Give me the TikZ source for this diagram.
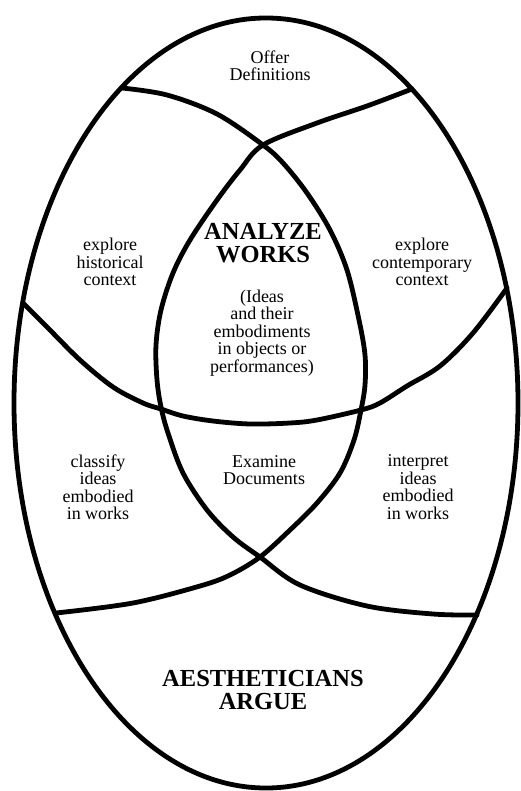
\documentclass[tikz,border=0pt]{standalone}
\usepackage{fontspec}
\setmainfont{Liberation Serif}
\begin{document}
\begin{tikzpicture}[x=1pt,y=-1pt,
  curve/.style={line width=4.8pt, line cap=round, line join=round},
  lbl/.style={font=\fontsize{18}{17.5}\selectfont, align=center, inner sep=0pt},
  big/.style={font=\bfseries\fontsize{24.5}{23.5}\selectfont, align=center, inner sep=0pt}]
\useasboundingbox (0,0) rectangle (520,791);
% outer egg
\draw[curve] (266,403) ellipse [x radius=252pt, y radius=385pt];
% left-centred arc (B)
\draw[curve] plot[smooth, tension=0.55] coordinates {(122,88) (167,95) (217,114) (263,145) (283,163) (307,193) (330,230) (347,270) (359,320) (365,355) (365,385) (361,410) (354,440) (340,473) (317,503) (290,530) (260,557) (230,575) (200,586) (133,603) (56,613)};
% right-centred arc (C)
\draw[curve] plot[smooth, tension=0.55] coordinates {(412,89) (367,106) (317,123) (263,145) (240,170) (217,200) (190,240) (173,273) (161,310) (156,345) (157,380) (161,407) (168,433) (183,473) (207,510) (233,537) (260,557) (300,585) (367,606) (433,614) (477,615)};
% smile arc (D)
\draw[curve] plot[smooth, tension=0.55] coordinates {(23,303) (47,327) (80,360) (113,387) (143,403) (161,409) (183,416) (213,421) (250,424) (290,423) (317,420) (361,410) (380,403) (407,386) (440,366) (473,333) (507,288)};
% labels
\node[lbl] (offer) at (270,66) {Offer\\Definitions};
\node[lbl] (hist) at (110,262) {explore\\historical\\context};
\node[lbl] (cont) at (422,262) {explore\\contemporary\\context};
\node[big] (analyze) at (263,243) {ANALYZE\\WORKS};
\node[lbl] (ideas) at (262,333) {(Ideas\\and their\\embodiments\\in objects or\\performances)};
\node[lbl] (classify) at (98,487) {classify\\ideas\\embodied\\in works};
\node[lbl] (examine) at (264,470) {Examine\\Documents};
\node[lbl] (interpret) at (418,487) {interpret\\ideas\\embodied\\in works};
\node[big] (argue) at (263,690) {AESTHETICIANS\\ARGUE};
\end{tikzpicture}
\end{document}
